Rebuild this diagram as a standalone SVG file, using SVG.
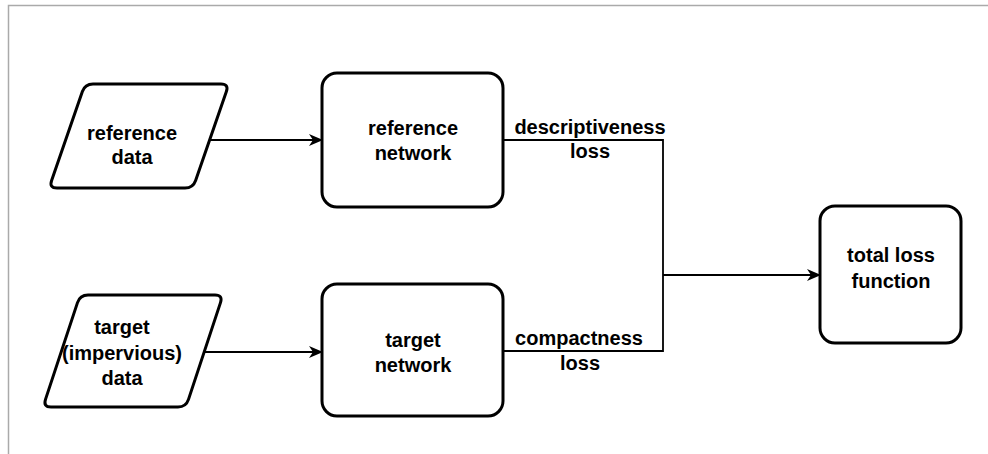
<svg xmlns="http://www.w3.org/2000/svg" width="988" height="454" viewBox="0 0 988 454">
  <defs>
    <marker id="arrow" viewBox="0 0 14 12" refX="13" refY="6" markerWidth="14" markerHeight="12" markerUnits="userSpaceOnUse" orient="auto">
      <path d="M0,0 L14,6 L0,12 L4,6 Z" fill="#000"/>
    </marker>
  </defs>
  <style>
    .shape { fill: #fff; stroke: #000; stroke-width: 3; }
    .edge { fill: none; stroke: #000; stroke-width: 1.8; }
    .label { font-family: "Liberation Sans", Arial, sans-serif; font-size: 20px; font-weight: bold; fill: #000; text-anchor: middle; }
  </style>

  <rect width="988" height="454" fill="#fff"/>
  <!-- page frame -->
  <path d="M8.5,454 V5.5 H988" fill="none" stroke="#aaa" stroke-width="1.5"/>

  <g id="connectors">
    <line class="edge" x1="209.6" y1="140" x2="322" y2="140" marker-end="url(#arrow)"/>
    <line class="edge" x1="204.2" y1="352" x2="322" y2="352" marker-end="url(#arrow)"/>
    <polyline class="edge" points="503,140 663,140 663,351 503,351"/>
    <line class="edge" x1="663" y1="275" x2="820" y2="275" marker-end="url(#arrow)"/>
    <text class="label" x="590" y="134">descriptiveness</text>
    <text class="label" x="590" y="158">loss</text>
    <text class="label" x="579" y="345">compactness</text>
    <text class="label" x="580" y="370">loss</text>
  </g>

  <g id="reference-data">
    <path class="shape" d="M93,84 L221,84 Q229,84 226.38,91.56 L195.62,180.44 Q193,188 185,188 L57,188 Q49,188 51.62,180.44 L82.38,91.56 Q85,84 93,84 Z"/>
    <text class="label" x="132" y="140">reference</text>
    <text class="label" x="132" y="164">data</text>
  </g>

  <g id="target-data">
    <path class="shape" d="M88,295 L215,295 Q223,295 220.49,302.6 L188.51,399.4 Q186,407 178,407 L51,407 Q43,407 45.51,399.4 L77.49,302.6 Q80,295 88,295 Z"/>
    <text class="label" x="122" y="334">target</text>
    <text class="label" x="122" y="360">(impervious)</text>
    <text class="label" x="122" y="385">data</text>
  </g>

  <g id="reference-network">
    <rect class="shape" x="322" y="73" width="181" height="134" rx="15" ry="15"/>
    <text class="label" x="413" y="135">reference</text>
    <text class="label" x="413" y="160">network</text>
  </g>

  <g id="target-network">
    <rect class="shape" x="322" y="284" width="181" height="132" rx="15" ry="15"/>
    <text class="label" x="413" y="347">target</text>
    <text class="label" x="413" y="372">network</text>
  </g>

  <g id="total-loss">
    <rect class="shape" x="820" y="206" width="141" height="137" rx="15" ry="15"/>
    <text class="label" x="891" y="262">total loss</text>
    <text class="label" x="891" y="288">function</text>
  </g>
</svg>
